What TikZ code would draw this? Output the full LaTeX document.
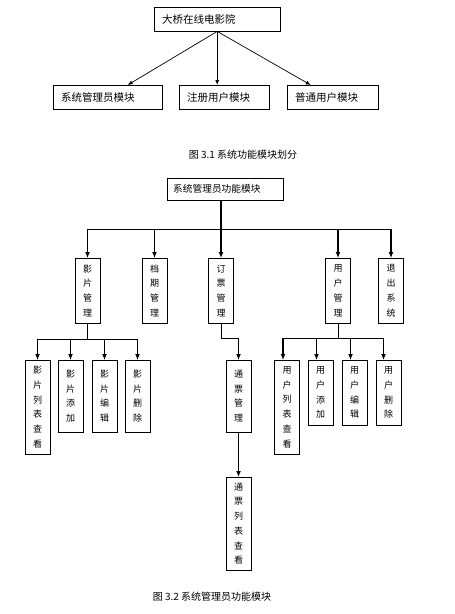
\documentclass[tikz,border=0pt]{standalone}
\usepackage{fontspec}
\setmainfont{Noto Sans CJK SC}
\usetikzlibrary{arrows.meta}

\tikzset{
	hbox/.style={draw=black, text width=#1, align=left, inner xsep=8pt, inner ysep=0pt,
		minimum height=24pt, anchor=north west, font=\fontsize{10.5}{12}\selectfont},
	vbox/.style={draw=black, minimum width=25pt, minimum height=#1, anchor=north,
		align=center, inner sep=0pt, font=\fontsize{9}{14.7}\selectfont},
	thinarr/.style={-{Latex[length=5pt,width=4pt]}, line width=0.7pt},
	bigarr/.style={-{Latex[length=6pt,width=5pt]}, line width=1.6pt},
	busline/.style={line width=0.8pt},
	caption/.style={font=\fontsize{10}{12}\selectfont}
}

\begin{document}
\begin{tikzpicture}[x=1pt, y=-1pt]
	
	\useasboundingbox (0,0) rectangle (455,614);
	
	% figure 3.1
	\node[hbox=110pt] (cinema)   at (154, 7)  {大桥在线电影院};
	\node[hbox=93pt]  (adminmod) at (53, 85)  {系统管理员模块};
	\node[hbox=74pt]  (regmod)   at (179, 85) {注册用户模块};
	\node[hbox=75pt]  (usermod)  at (287, 85) {普通用户模块};
	
	\path[thinarr] (cinema.south) edge ([xshift=20pt]adminmod.north);
	\path[thinarr] (cinema.south) edge (cinema.south |- regmod.north);
	\path[thinarr] (cinema.south) edge ([xshift=-22pt]usermod.north);
	
	\node[caption] (cap1) at (243, 155) {图 3.1 系统功能模块划分};
	
	% figure 3.2
	\node[hbox=104pt, inner xsep=6pt, minimum height=22pt, font=\fontsize{9.7}{12}\selectfont]
		(admin) at (167, 178) {系统管理员功能模块};
	
	\node[vbox=65pt] (film)     at (87.5, 258)  {影\\片\\管\\理};
	\node[vbox=65pt] (schedule) at (154.5, 258) {档\\期\\管\\理};
	\node[vbox=65pt] (ticket)   at (221, 258)   {订\\票\\管\\理};
	\node[vbox=65pt] (usermgr)  at (338, 258)   {用\\户\\管\\理};
	\node[vbox=65pt] (quit)     at (391, 258)   {退\\出\\系\\统};
	
	\node[vbox=94pt] (filmlist) at (37.5, 360)  {影\\片\\列\\表\\查\\看};
	\node[vbox=72pt] (filmadd)  at (70.5, 360)  {影\\片\\添\\加};
	\node[vbox=72pt] (filmedit) at (104.5, 360) {影\\片\\编\\辑};
	\node[vbox=72pt] (filmdel)  at (137.5, 360) {影\\片\\删\\除};
	
	\node[vbox=72pt] (pass)     at (238.5, 360) {通\\票\\管\\理};
	\node[vbox=93pt] (passlist) at (238.5, 477) {通\\票\\列\\表\\查\\看};
	
	\node[vbox=94pt] (userlist) at (287, 360)   {用\\户\\列\\表\\查\\看};
	\node[vbox=65pt] (useradd)  at (320.5, 360) {用\\户\\添\\加};
	\node[vbox=65pt] (useredit) at (354.5, 360) {用\\户\\编\\辑};
	\node[vbox=65pt] (userdel)  at (388.5, 360) {用\\户\\删\\除};
	
	\coordinate (busL) at (87.5, 229);
	\coordinate (busR) at (391, 229);
	\coordinate (filmbus) at (87.5, 339);
	\coordinate (ticketbus) at (221, 338);
	\coordinate (userbus) at (338, 338);
	
	\draw[busline] (busL) -- (busR);
	\path[bigarr] (busL) edge (film.north);
	\path[bigarr] (schedule.north |- busL) edge (schedule.north);
	\path[bigarr] (admin.south -| ticket.north) edge (ticket.north);
	\path[bigarr] (usermgr.north |- busL) edge (usermgr.north);
	\path[bigarr] (busR) edge (quit.north);
	
	\draw[busline] (film.south) -- (filmbus);
	\draw[busline] (filmlist.north |- filmbus) -- (filmdel.north |- filmbus);
	\path[bigarr] (filmlist.north |- filmbus) edge (filmlist.north);
	\path[bigarr] (filmadd.north |- filmbus) edge (filmadd.north);
	\path[bigarr] (filmedit.north |- filmbus) edge (filmedit.north);
	\path[bigarr] (filmdel.north |- filmbus) edge (filmdel.north);
	
	\draw[busline] (ticket.south) -- (ticketbus) -- (ticketbus -| pass.north);
	\path[bigarr] (ticketbus -| pass.north) edge (pass.north);
	\path[bigarr] (pass.south) edge (passlist.north);
	
	\draw[busline] (usermgr.south) -- (userbus);
	\draw[busline] ([xshift=-4pt]userlist.north |- userbus) -- ([xshift=-5pt]userdel.north |- userbus);
	\path[bigarr] ([xshift=-4pt]userlist.north |- userbus) edge ([xshift=-4pt]userlist.north);
	\path[bigarr] ([xshift=-4pt]useradd.north |- userbus) edge ([xshift=-4pt]useradd.north);
	\path[bigarr] ([xshift=-4pt]useredit.north |- userbus) edge ([xshift=-4pt]useredit.north);
	\path[bigarr] ([xshift=-5pt]userdel.north |- userbus) edge ([xshift=-5pt]userdel.north);
	
	\node[caption] (cap2) at (212, 597) {图 3.2 系统管理员功能模块};
	
\end{tikzpicture}
\end{document}
